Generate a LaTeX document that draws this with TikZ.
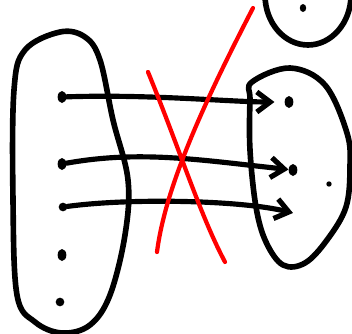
\documentclass[tikz,border=0pt]{standalone}
\usetikzlibrary{arrows.meta,shapes.geometric}
\begin{document}
\begin{tikzpicture}[x=0.03cm, y=-0.03cm, line cap=round, line join=round,
          blob/.style={draw, line width=4.8pt},
          dotnode/.style={ellipse, fill=black, inner sep=0pt, minimum width=2.6mm, minimum height=3.6mm},
          map/.style={draw, line width=4.4pt, -{Straight Barb[length=4mm, width=6mm]}},
          cross/.style={draw, red, line width=3.6pt}]
        \useasboundingbox (0,0) rectangle (352,334);
        \clip (0,0) rectangle (352,334);
        % the three sets
        \draw[blob] plot[smooth cycle, tension=0.6] coordinates {(60,32) (85,37) (100,60) (113,120) (128,180) (125,235) (110,295) (90,325) (62,333) (35,322) (17,295) (13,200) (14,90) (25,50)};
        \draw[blob] plot[smooth cycle, tension=0.6] coordinates {(252,82) (290,68) (325,85) (347,133) (350,167) (346,207) (327,240) (305,263) (283,265) (266,242) (256,207) (250,150) (250,100)};
        \draw[blob] (308,-5) ellipse [x radius=43, y radius=50];
        % elements
        \node[dotnode] (l1) at (62,97) {};
        \node[dotnode] (l2) at (62,164) {};
        \node[dotnode, minimum height=2.6mm] (l3) at (63,207) {};
        \node[dotnode] (l4) at (62,255) {};
        \node[dotnode, minimum height=2.6mm] (l5) at (60,302) {};
        \node[dotnode] (r1) at (289,102) {};
        \node[dotnode] (r2) at (293,170) {};
        \node[dotnode, minimum width=1.6mm, minimum height=1.6mm] (r4) at (329,184) {};
        \node[dotnode, minimum width=1.9mm, minimum height=2.4mm] (t1) at (303,8) {};
        \coordinate (r3) at (293,213);
        % the mapping
        \draw[map, shorten >=3mm] (l1) .. controls (150,94) and (230,102) .. (r1);
        \draw[map] (l2) .. controls (140,150) and (200,160) .. (r2);
        \draw[map] (l3) .. controls (130,198) and (240,200) .. (r3);
        % crossed out
        \draw[cross] (148,72) .. controls (180,150) and (200,215) .. (225,262);
        \draw[cross] (253,8) .. controls (200,110) and (165,190) .. (157,252);
      \end{tikzpicture}
\end{document}
